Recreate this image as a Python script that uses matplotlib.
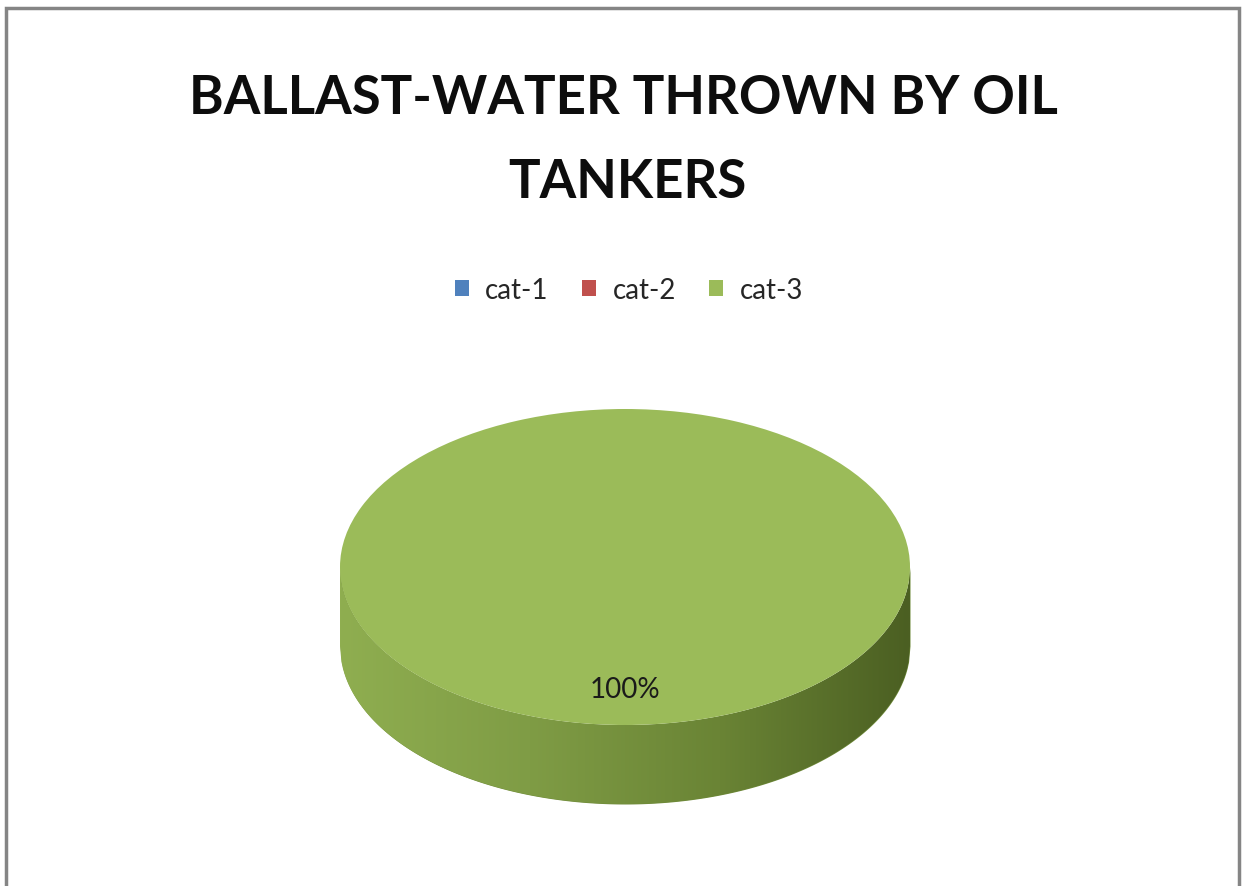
import numpy as np
import matplotlib
matplotlib.use("Agg")
import matplotlib.pyplot as plt
from matplotlib.colors import LinearSegmentedColormap
from matplotlib.patches import Rectangle
from matplotlib import font_manager

plt.rcParams['font.family'] = ['Lato', 'DejaVu Sans']

# data
categories = ["cat-1", "cat-2", "cat-3"]
values = [0, 0, 100]
colors = ["#4F81BD", "#C0504D", "#9BBB59"]
title_lines = ["BALLAST-WATER THROWN BY OIL", "TANKERS"]

W, H = 1246, 887
fig = plt.figure(figsize=(W / 100, H / 100), dpi=100)
fig.patch.set_facecolor("white")

# outer frame of the chart area
fig.patches.append(Rectangle((6 / W, -0.02), (1239 - 6) / W, 1 - 9 / H + 0.02,
                             transform=fig.transFigure, fill=False,
                             edgecolor="#858585", linewidth=2.5))

# pie axes: 1 data unit = 285 px wide, 158 px tall (tilted look)
cx, cy, rx, ry = 625, 568, 285, 158
x0, x1, y0, y1 = -1.25, 1.25, -1.9, 1.25
ax = fig.add_axes([(cx + x0 * rx) / W, (H - (cy - y0 * ry)) / H,
                   (x1 - x0) * rx / W, (y1 - y0) * ry / H])

depth = 0.5
t = np.linspace(-1, 1, 400)
band = ax.fill_between(t, -np.sqrt(1 - t ** 2) - depth, -np.sqrt(1 - t ** 2),
                       color="#6f8a3a", linewidth=0, zorder=1)
side_cmap = LinearSegmentedColormap.from_list(
    "side", ["#8fae50", "#7f9c45", "#6a8435", "#4b5f22"])
grad = ax.imshow(np.linspace(0, 1, 256).reshape(1, -1), cmap=side_cmap,
                 extent=[-1, 1, -1 - depth, 0], aspect="auto", zorder=2)
grad.set_clip_path(band.get_paths()[0], transform=ax.transData)


def pct(p):
    return "%d%%" % round(p) if p > 0 else ""


wedges, texts, autotexts = ax.pie(values, colors=colors, startangle=90,
                                  autopct=pct, pctdistance=0.77,
                                  wedgeprops=dict(linewidth=0, zorder=3),
                                  textprops=dict(fontsize=20, color="#1a1a1a"))
for w in wedges:
    w.set_zorder(3)
for a in autotexts:
    a.set_zorder(4)
ax.set_aspect("auto")
ax.set_xlim(x0, x1)
ax.set_ylim(y0, y1)
ax.axis("off")

# title: narrow bold face if available (closer to Calibri width)
names = {f.name for f in font_manager.fontManager.ttflist}
if "Liberation Sans Narrow" in names:
    tfam, tsize = ["Liberation Sans Narrow", "DejaVu Sans"], 44
else:
    tfam, tsize = ["Lato", "DejaVu Sans"], 38
fig.text(0.5, 1 - 98 / H, title_lines[0], ha="center", va="center",
         fontsize=tsize, fontweight="bold", color="#0d0d0d", family=tfam)
fig.text(627 / W, 1 - 183 / H, title_lines[1], ha="center", va="center",
         fontsize=tsize, fontweight="bold", color="#0d0d0d", family=tfam)

fig.legend(wedges, categories, loc="center", ncol=3, frameon=False,
           bbox_to_anchor=(629 / W, 1 - 291 / H), fontsize=20,
           handlelength=0.5, handleheight=0.5, handletextpad=0.6,
           columnspacing=1.2, labelcolor="#262626")

fig.savefig("out.png", dpi=100, facecolor="white")
